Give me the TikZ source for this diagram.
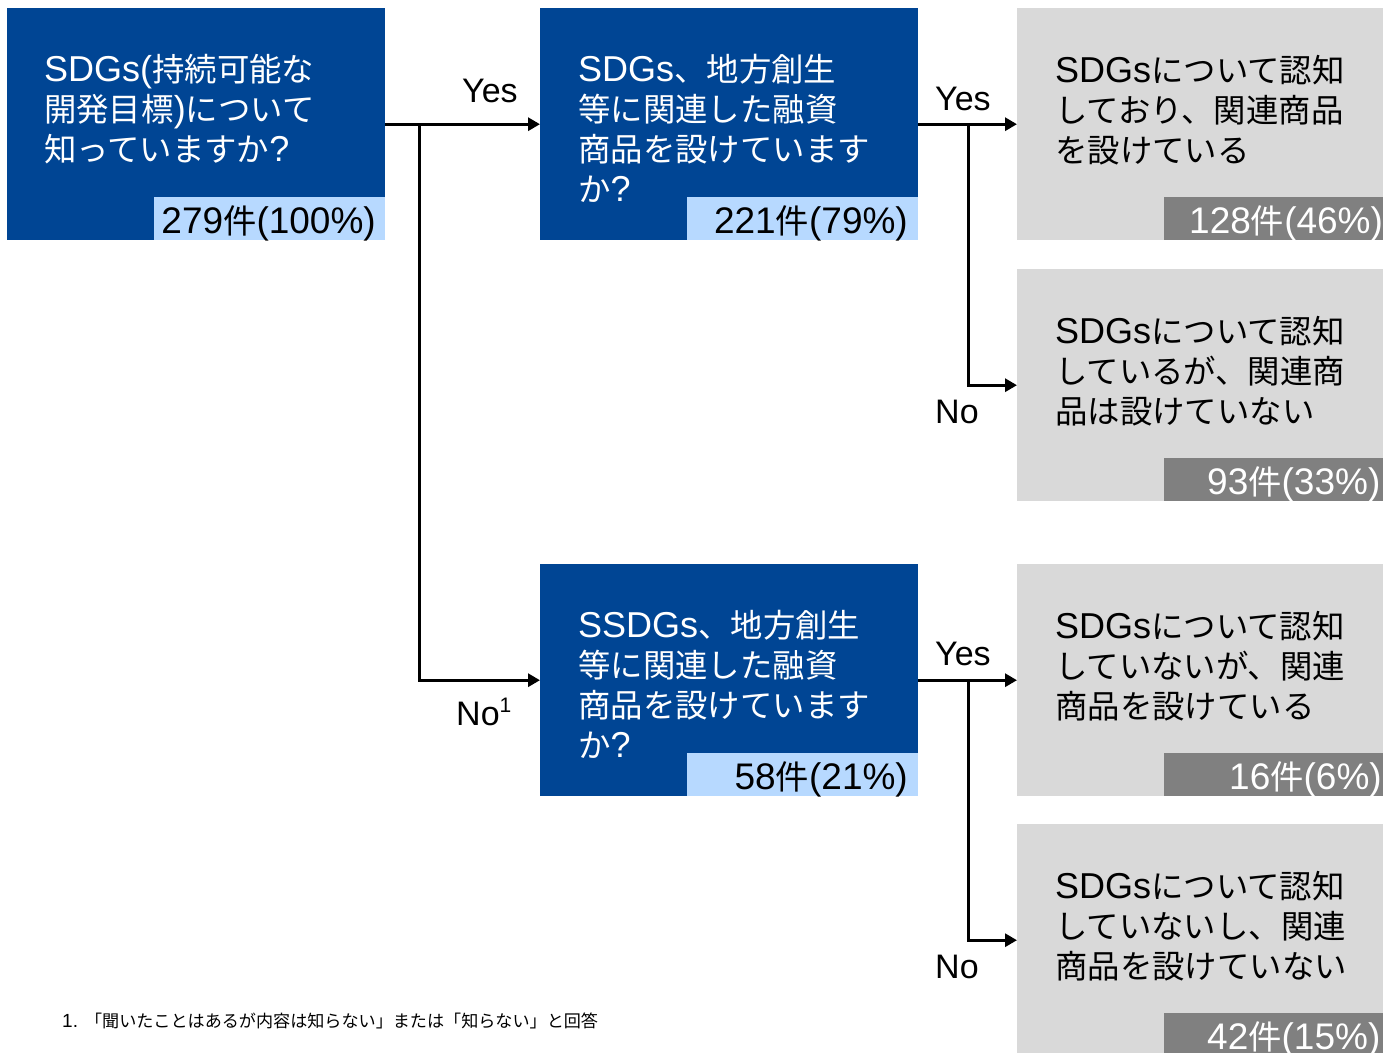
\documentclass[tikz,border=0pt]{standalone}
\usepackage{fontspec}
\usetikzlibrary{arrows.meta}
\setmainfont{Liberation Sans}
\newfontfamily\latfont{Liberation Sans}
\newfontfamily\cjkfont[Scale=0.9]{Noto Sans CJK JP}
\XeTeXinterchartokenstate=1
\newXeTeXintercharclass\CJKcls
\newcount\cjkc
\def\setcjkrange#1#2{\cjkc=#1\relax\loop\XeTeXcharclass\cjkc=\CJKcls\relax\ifnum\cjkc<#2\relax\advance\cjkc by 1\repeat}
\setcjkrange{"3000}{"30FF}
\setcjkrange{"4E00}{"9FFF}
\setcjkrange{"FF00}{"FFEF}
\XeTeXinterchartoks 0 \CJKcls = {\cjkfont}
\XeTeXinterchartoks 4095 \CJKcls = {\cjkfont}
\XeTeXinterchartoks \CJKcls 0 = {\latfont}
\XeTeXinterchartoks \CJKcls 4095 = {\latfont}
\definecolor{sdgblue}{RGB}{0,69,148}
\definecolor{lband}{RGB}{183,217,255}
\definecolor{boxgray}{RGB}{217,217,217}
\definecolor{dband}{RGB}{128,128,128}
\begin{document}
\begin{tikzpicture}[x=1pt,y=-1pt,
  bluebox/.style={fill=sdgblue,inner sep=0,minimum width=378pt,minimum height=232pt,anchor=north west},
  graybox/.style={fill=boxgray,inner sep=0,minimum width=370pt,minimum height=232pt,anchor=north west},
  lightbar/.style={fill=lband,inner sep=0,minimum width=231pt,minimum height=43pt,anchor=north west},
  darkbar/.style={fill=dband,inner sep=0,minimum width=225pt,minimum height=43pt,anchor=north west},
  qtext/.style={inner sep=0,anchor=base west,font=\fontsize{36}{40}\selectfont},
  cnt/.style={inner sep=0,font=\fontsize{37}{40}\selectfont},
  lab/.style={inner sep=0,anchor=base west,font=\fontsize{34}{40}\selectfont},
  arr/.style={line width=3pt,-{Triangle[length=12pt,width=13pt]}}]
\useasboundingbox (0,0) rectangle (1383,1052);
\clip (0,0) rectangle (1383,1052);
% boxes
\node[bluebox] (A) at (7,8) {};
\node[bluebox] (B) at (540,8) {};
\node[bluebox] (C) at (540,564) {};
\node[graybox] (G1) at (1017,8) {};
\node[graybox] (G2) at (1017,269) {};
\node[graybox] (G3) at (1017,564) {};
\node[graybox] (G4) at (1017,824) {};
% count bars
\node[lightbar] (Ab) at (154,197) {};
\node[lightbar] (Bb) at (687,197) {};
\node[lightbar] (Cb) at (687,753) {};
\node[darkbar] (G1b) at (1164,197) {};
\node[darkbar] (G2b) at (1164,458) {};
\node[darkbar] (G3b) at (1164,753) {};
\node[darkbar] (G4b) at (1164,1013) {};
% question texts
\node[qtext,text=white] (At) at (44,81) {\parbox[t]{335pt}{SDGs(持続可能な\\開発目標)について\\知っていますか?}};
\node[qtext,text=white] (Bt) at (578,81) {\parbox[t]{335pt}{SDGs、地方創生\\等に関連した融資\\商品を設けています\\か?}};
\node[qtext,text=white] (Ct) at (578,637) {\parbox[t]{335pt}{SSDGs、地方創生\\等に関連した融資\\商品を設けています\\か?}};
\node[qtext] (G1t) at (1055,82) {\parbox[t]{320pt}{SDGsについて認知\\しており、関連商品\\を設けている}};
\node[qtext] (G2t) at (1055,343) {\parbox[t]{320pt}{SDGsについて認知\\しているが、関連商\\品は設けていない}};
\node[qtext] (G3t) at (1055,638) {\parbox[t]{320pt}{SDGsについて認知\\していないが、関連\\商品を設けている}};
\node[qtext] (G4t) at (1055,898) {\parbox[t]{320pt}{SDGsについて認知\\していないし、関連\\商品を設けていない}};
% counts
\node[cnt,anchor=base east] (Ac) at (376,233) {279件(100\%)};
\node[cnt,anchor=base east] (Bc) at (908,233) {221件(79\%)};
\node[cnt,anchor=base east] (Cc) at (908,789) {58件(21\%)};
\node[cnt,anchor=base west,text=white] (G1c) at (1189,233) {128件(46\%)};
\node[cnt,anchor=base west,text=white] (G2c) at (1207,494) {93件(33\%)};
\node[cnt,anchor=base west,text=white] (G3c) at (1229,789) {16件(6\%)};
\node[cnt,anchor=base west,text=white] (G4c) at (1207,1049) {42件(15\%)};
% junctions
\coordinate (j1) at (419,124);
\coordinate (j2) at (968,124);
\coordinate (j3) at (968,680);
% connectors
\draw[arr] (A.east) -- (B.west);
\draw[arr] (j1) |- (C.west);
\draw[arr] (B.east) -- (G1.west);
\draw[arr] (j2) |- (G2.west);
\draw[arr] (C.east) -- (G3.west);
\draw[arr] (j3) |- (G4.west);
% labels
\node[lab] (y1) at (462,102) {Yes};
\node[lab] (y2) at (935,110) {Yes};
\node[lab] (n2) at (935,423) {No};
\node[lab] (y3) at (935,665) {Yes};
\node[lab] (n3) at (935,978) {No};
\node[lab] (n1) at (456,725) {No\raisebox{13pt}{\fontsize{21}{21}\selectfont 1}};
% footnote
\node[inner sep=0,anchor=base west,font=\fontsize{19}{22}\selectfont] (fn) at (62,1027) {1. 「聞いたことはあるが内容は知らない」または「知らない」と回答};
\end{tikzpicture}
\end{document}
